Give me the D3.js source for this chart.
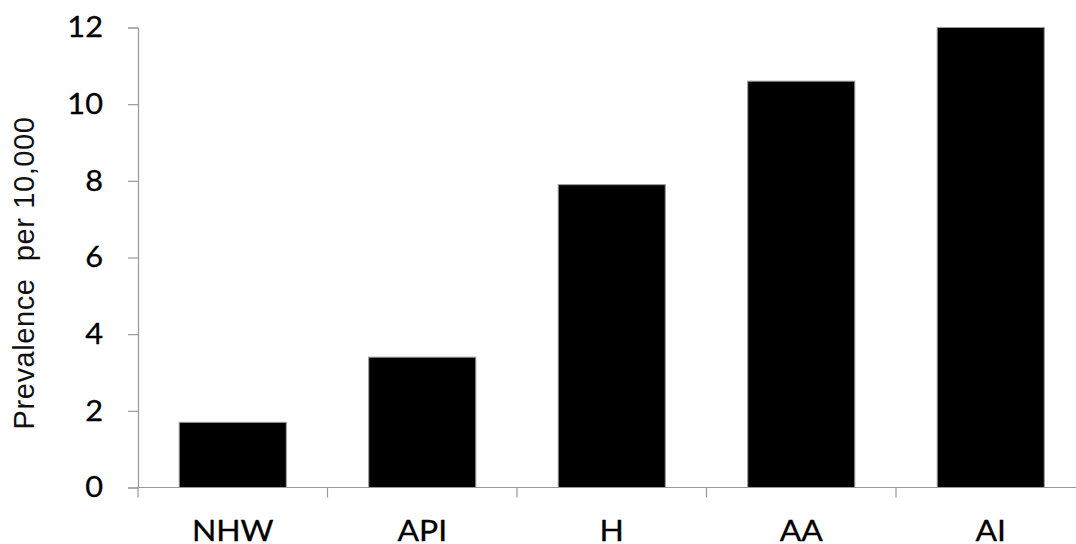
<!DOCTYPE html>
<html>
<head>
<meta charset="utf-8">
<script src="https://cdn.jsdelivr.net/npm/d3@7"></script>
<style>
  body { margin: 0; background: #fff; }
  svg { display: block; }
</style>
</head>
<body>
<svg id="chart" width="1076" height="544"></svg>
<script>
const categories = ["NHW", "API", "H", "AA", "AI"];
const values = [1.7, 3.4, 7.9, 10.6, 12.0];
const yTicks = [0, 2, 4, 6, 8, 10, 12];
const yLabel = "Prevalence  per 10,000";

const svg = d3.select("#chart");
const mLeft = 138, mRight = 1085.5, mTop = 27.5, mBottom = 487.5;

const x = d3.scaleBand().domain(categories).range([mLeft, mRight]).paddingInner(0.435).paddingOuter(0.2175);
const y = d3.scaleLinear().domain([0, 12]).range([mBottom, mTop]);

const tickFont = "Lato, 'Open Sans', sans-serif";

// bars
svg.append("g").selectAll("rect").data(values).join("rect")
  .attr("x", (d, i) => x(categories[i]))
  .attr("y", d => y(d))
  .attr("width", x.bandwidth())
  .attr("height", d => y(0) - y(d))
  .attr("fill", "#000")
  .attr("stroke", "#999")
  .attr("stroke-width", 1);

// y axis
const yAxis = svg.append("g").attr("transform", `translate(${mLeft},0)`)
  .call(d3.axisLeft(y).tickValues(yTicks).tickSize(10).tickFormat(d3.format("d")));
yAxis.select(".domain").attr("stroke", "#999").attr("stroke-width", 1.2);
yAxis.selectAll(".tick line").attr("stroke", "#999").attr("stroke-width", 1.2);
yAxis.selectAll(".tick text")
  .attr("x", null)
  .attr("transform", "translate(-35,0) scale(1.06,1)")
  .attr("font-family", tickFont).attr("font-size", 29)
  .attr("fill", "#000").attr("stroke", "#000").attr("stroke-width", 0.3);

// x axis with boundary ticks
const boundaries = d3.range(categories.length + 1).map(i => mLeft + i * x.step());
const xg = svg.append("g");
xg.append("line").attr("x1", mLeft).attr("x2", mRight).attr("y1", mBottom).attr("y2", mBottom)
  .attr("stroke", "#999").attr("stroke-width", 1.2);
xg.selectAll("line.b").data(boundaries).join("line").attr("class", "b")
  .attr("x1", d => d).attr("x2", d => d).attr("y1", mBottom).attr("y2", mBottom + 10)
  .attr("stroke", "#999").attr("stroke-width", 1.2);
xg.selectAll("text").data(categories).join("text")
  .attr("transform", d => `translate(${x(d) + x.bandwidth() / 2},541) scale(1.1,1)`)
  .attr("text-anchor", "middle")
  .attr("font-family", tickFont).attr("font-size", 29).attr("fill", "#000")
  .attr("stroke", "#000").attr("stroke-width", 0.3)
  .text(d => d);

// y label
svg.append("text")
  .attr("transform", "translate(34,273) rotate(-90)")
  .attr("text-anchor", "middle")
  .attr("font-family", "'Liberation Sans', Arial, sans-serif")
  .attr("font-size", 29)
  .attr("letter-spacing", 0.6)
  .attr("fill", "#111")
  .style("white-space", "pre")
  .text(yLabel);
</script>
</body>
</html>
